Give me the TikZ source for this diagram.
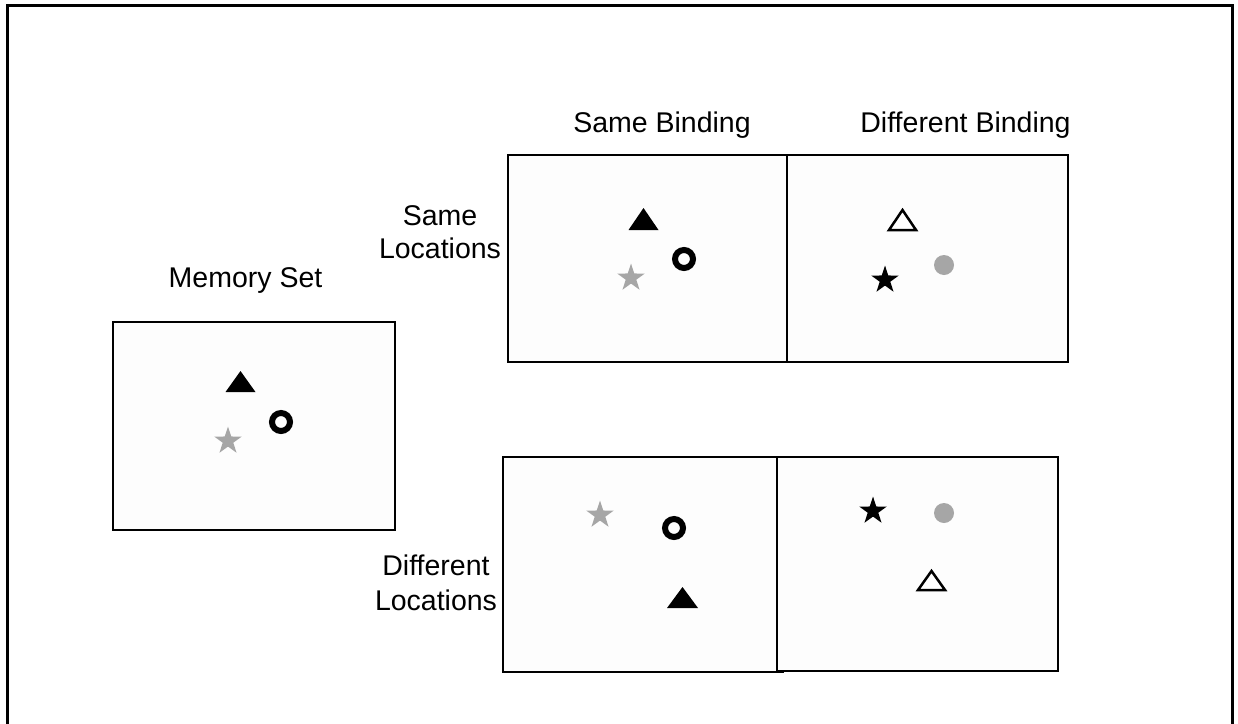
\documentclass[tikz,border=0pt]{standalone}
\usepackage{fontspec}
\setmainfont{Liberation Sans}
\usetikzlibrary{shapes.geometric}
\definecolor{itemGrey}{HTML}{A6A6A6}
\definecolor{boxFill}{HTML}{FDFDFD}
\begin{document}
\begin{tikzpicture}[x=1pt,y=-1pt,
  panel/.style={draw=black,line width=2pt,fill=boxFill,inner sep=0pt,outer sep=0pt,anchor=north west},
  lbl/.style={font=\fontsize{28.5}{34}\selectfont,align=center,inner sep=0pt,anchor=base},
  starshape/.style={star,star points=5,star point ratio=2.6,inner sep=0pt,minimum size=29pt,draw=none},
  ring/.style={circle,draw=black,line width=6pt,minimum size=18pt,inner sep=0pt},
  greydot/.style={circle,fill=itemGrey,minimum size=20pt,inner sep=0pt},
  solidtri/.style={fill=black},
  opentri/.style={draw=black,line width=2.5pt,fill=white,line join=miter},
]
\useasboundingbox (0,0) rectangle (1238,723);
\fill[white] (0,0) rectangle (1238,723);
% outer frame (open at the bottom)
\draw[line width=3pt] (7,730) -- (7,5) -- (1232,5) -- (1232,730);

% labels
\node[lbl] (lsb) at (662,132) {Same Binding};
\node[lbl] (ldb) at (965.5,132) {Different Binding};
\node[lbl] (lms) at (245.5,287) {Memory Set};
\node[lbl,font=\fontsize{28.5}{33}\selectfont] (lsl) at (440,258) {Same\\Locations};
\node[lbl,font=\fontsize{28.5}{35}\selectfont] (ldl) at (436,610) {Different\\Locations};

% panels
\node[panel,minimum width=282pt,minimum height=208pt] (mem) at (113,322) {};
\node[panel,minimum width=279pt,minimum height=207pt] (sbsl) at (508,155) {};
\node[panel,minimum width=281pt,minimum height=207pt] (dbsl) at (787,155) {};
\node[panel,minimum width=280pt,minimum height=215pt] (sbdl) at (503,457) {};
\node[panel,minimum width=281pt,minimum height=214pt] (dbdl) at (777,457) {};

% memory set
\fill[solidtri] (240.5,371) -- (255.5,392) -- (225.5,392) -- cycle;
\node[ring] (m1) at (281,422) {};
\node[starshape,fill=itemGrey] (m2) at (228,441) {};

% same binding, same locations
\fill[solidtri] (643.5,208) -- (658.5,230) -- (628.5,230) -- cycle;
\node[ring] (a1) at (684,259) {};
\node[starshape,fill=itemGrey] (a2) at (631,278) {};

% different binding, same locations
\draw[opentri] (902.5,210) -- (916,230) -- (889,230) -- cycle;
\node[greydot] (b1) at (944,265) {};
\node[starshape,fill=black] (b2) at (885,280) {};

% same binding, different locations
\node[starshape,fill=itemGrey] (c1) at (600,515) {};
\node[ring] (c2) at (674,528) {};
\fill[solidtri] (682.5,587) -- (698,608) -- (667,608) -- cycle;

% different binding, different locations
\node[starshape,fill=black] (d1) at (873,511) {};
\node[greydot] (d2) at (944,513) {};
\draw[opentri] (931.5,571) -- (945,590) -- (918,590) -- cycle;
\end{tikzpicture}
\end{document}
